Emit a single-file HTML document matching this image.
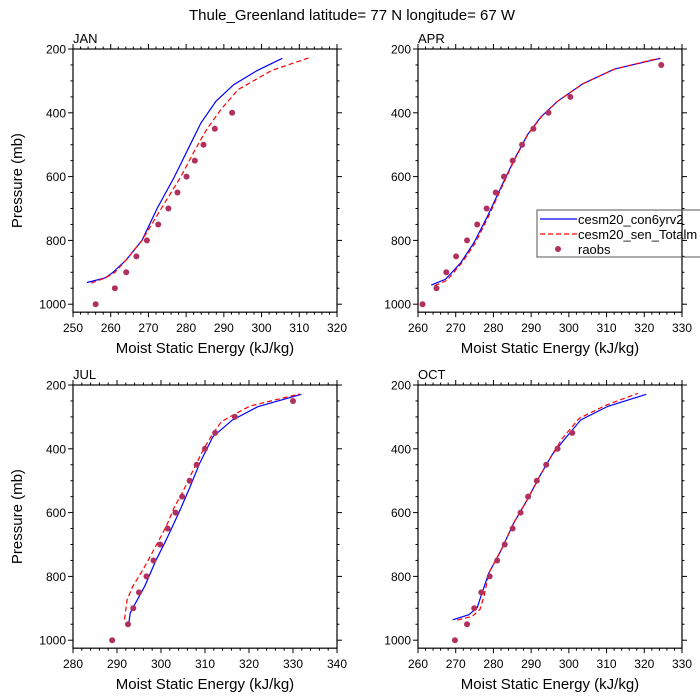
<!DOCTYPE html>
<html><head><meta charset="utf-8">
<style>
html,body{margin:0;padding:0;background:#fff;}
svg{display:block;font-family:"Liberation Sans",Arial,sans-serif;}
</style></head>
<body>
<svg id="chart" width="700" height="700" viewBox="0 0 700 700" xmlns="http://www.w3.org/2000/svg">
<text x="352" y="20" font-size="15" text-anchor="middle">Thule_Greenland  latitude= 77 N longitude= 67 W</text>
</svg>
<script>
// ---- data ----
const panelNames = ["JAN","APR","JUL","OCT"];
const xMins = [250,260,280,260];
const xMaxs = [320,330,340,330];
const yTicks = [200,400,600,800,1000];

const janBlueX = [253.7,258.5,260.6,264.1,268.3,272.3,276.9,280.4,283.9,287.9,292.6,298.9,305.5];
const janBlueP = [932,918,900,861,800,700,600,516,432,364,312,267,229];
const janRedX = [254.8,258.5,261.1,264.1,268.3,273.4,278.6,281.9,285.4,289.2,293.8,302.7,312.5];
const janRedP = [934,918,900,861,800,700,600,526,453,390,327,267,228];
const janObsX = [256.0,261.1,264.1,266.8,269.6,272.6,275.3,277.7,280.1,282.3,284.6,287.6,292.2];
const janObsP = [1000,950,900,850,800,750,700,650,600,550,500,450,400];

const aprBlueX = [263.5,267.3,271.3,274.8,278.4,281.9,285.5,289.0,292.6,297.0,303.7,312.1,324.3];
const aprBlueP = [940,922,871,808,725,636,547,469,413,364,309,263,229];
const aprRedX = [264.4,267.7,271.6,275.2,278.7,282.1,285.6,289.1,292.7,297.0,303.7,312.1,323.8];
const aprRedP = [942,925,871,808,725,636,547,469,413,364,309,263,229];
const aprObsX = [261.2,264.9,267.5,270.1,273.0,275.7,278.2,280.6,282.8,285.1,287.6,290.6,294.6,300.4,324.5];
const aprObsP = [1000,950,900,850,800,750,700,650,600,550,500,450,400,350,250];

const julBlueX = [292.7,293.0,293.8,296.3,298.9,301.2,304.2,306.5,308.8,311.8,316.2,322.0,331.9];
const julBlueP = [946,915,894,831,748,685,596,523,445,362,310,268,229];
const julRedX = [291.7,292.3,293.6,295.9,298.6,301.2,303.1,304.8,307.9,309.7,311.9,313.7,316.4,320.2,331.5];
const julRedP = [935,873,831,779,711,643,581,539,450,400,350,315,294,266,228];
const julObsX = [288.9,292.5,293.7,295.0,296.7,298.3,299.8,301.5,303.3,304.8,306.5,308.1,310.0,312.3,316.8,330.0];
const julObsP = [1000,950,900,850,800,750,700,650,600,550,500,450,400,350,300,250];

const octBlueX = [269.2,273.5,275.7,277.0,278.8,281.9,285.4,289.0,292.5,295.6,298.8,303.2,310.3,320.5];
const octBlueP = [936,920,898,851,789,721,632,559,481,418,371,309,267,229];
const octRedX = [270.4,274.4,276.4,277.5,278.8,281.9,285.4,289.0,292.5,295.6,298.3,302.8,309.9,318.3];
const octRedP = [937,925,904,862,789,721,632,559,481,418,367,304,263,226];
const octObsX = [269.8,273.0,274.9,276.8,279.0,281.0,283.0,285.1,287.2,289.2,291.5,294.0,297.0,300.9];
const octObsP = [1000,950,900,850,800,750,700,650,600,550,500,450,400,350];

const blueXs=[janBlueX,aprBlueX,julBlueX,octBlueX], bluePs=[janBlueP,aprBlueP,julBlueP,octBlueP];
const redXs=[janRedX,aprRedX,julRedX,octRedX], redPs=[janRedP,aprRedP,julRedP,octRedP];
const obsXs=[janObsX,aprObsX,julObsX,octObsX], obsPs=[janObsP,aprObsP,julObsP,octObsP];

// ---- drawing ----
const NS="http://www.w3.org/2000/svg";
const svg=document.getElementById('chart');
function mk(tag,attrs,parent){const e=document.createElementNS(NS,tag);for(const k in attrs)e.setAttribute(k,attrs[k]);(parent||svg).appendChild(e);return e;}
const lefts=[73,418,73,418], tops=[49,49,385,385];
const W=264, P0=200, P1=1025, pxPer100=31.9;
for(let i=0;i<4;i++){
  const L=lefts[i], T=tops[i], B=T+(P1-P0)/100*pxPer100, R=L+W;
  const g=mk('g',{});
  
  
  const xs=v=>L+(v-xMins[i])/(xMaxs[i]-xMins[i])*W;
  const ys=p=>T+(p-P0)/100*pxPer100;
  const lab=mk('text',{x:L,y:T-6,'font-size':13},g);lab.textContent=panelNames[i];
  
  
  // x ticks
  for(let v=xMins[i];v<=xMaxs[i]+1e-9;v+=2){
    const major=((v-xMins[i])%10===0), len=major?5:2.5, x=xs(v);
    mk('line',{x1:x,x2:x,y1:T,y2:T-len,stroke:'#000','stroke-width':1},g);
    mk('line',{x1:x,x2:x,y1:B,y2:B+len,stroke:'#000','stroke-width':1},g);
    if(major){const t=mk('text',{x:x,y:B+20,'font-size':12,'text-anchor':'middle'},g);t.textContent=v;
      
      }
  }
  for(let p=200;p<=1000;p+=50){
    const major=(p%200===0), len=major?5:2.5, y=ys(p);
    mk('line',{x1:L,x2:L-len,y1:y,y2:y,stroke:'#000','stroke-width':1},g);
    mk('line',{x1:R,x2:R+len,y1:y,y2:y,stroke:'#000','stroke-width':1},g);
  }
  yTicks.forEach(p=>{const t=mk('text',{x:L-7,y:ys(p)+4.5,'font-size':12,'text-anchor':'end'},g);t.textContent=p;
    
    });
  const xt=mk('text',{x:L+W/2,y:B+41,'font-size':15,'text-anchor':'middle'},g);xt.textContent='Moist Static Energy (kJ/kg)';
  
  
  if(i%2===0){const yt=mk('text',{x:0,y:0,'font-size':15,'text-anchor':'middle',transform:`translate(22,${(T+B)/2}) rotate(-90)`},g);yt.textContent='Pressure (mb)';
    
    }
  const pts=(X,P)=>X.map((v,k)=>xs(v).toFixed(1)+','+ys(P[k]).toFixed(1)).join(' ');
  const bl=mk('polyline',{points:pts(blueXs[i],bluePs[i]),fill:'none',stroke:'#0000ff','stroke-width':1.2},g);
  
  
  const rl=mk('polyline',{points:pts(redXs[i],redPs[i]),fill:'none',stroke:'#ff0000','stroke-width':1.2,'stroke-dasharray':'5,3'},g);
  
  
  obsXs[i].forEach((v,k)=>{const c=mk('circle',{cx:xs(v),cy:ys(obsPs[i][k]),r:3,fill:'#b03060'},g);
    
    });
  const box=mk('rect',{x:L,y:T,width:W,height:B-T,fill:'none',stroke:'#000','stroke-width':1.2},g);
  
  
}
// legend
const lg=mk('g',{});


mk('rect',{x:537,y:210,width:180,height:47,fill:'none',stroke:'#555','stroke-width':1},lg);
mk('line',{x1:540,x2:577,y1:219,y2:219,stroke:'#0000ff','stroke-width':1.2},lg);
mk('line',{x1:540,x2:577,y1:234,y2:234,stroke:'#ff0000','stroke-width':1.2,'stroke-dasharray':'5,3'},lg);
mk('circle',{cx:558,cy:249,r:3,fill:'#b03060'},lg);
[['cesm20_con6yrv2',224],['cesm20_sen_Totalm',239],['raobs',254]].forEach(([s,y])=>{
  const t=mk('text',{x:578,y:y,'font-size':13},lg);t.textContent=s;
  
  });
</script>
</body></html>
